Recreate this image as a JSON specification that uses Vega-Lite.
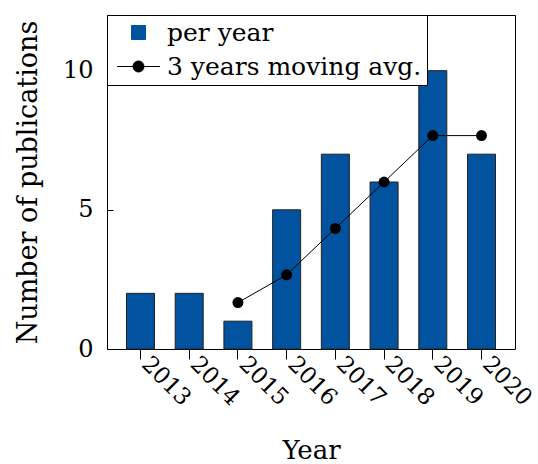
{
  "$schema": "https://vega.github.io/schema/vega-lite/v6.json",
  "width": 408,
  "height": 334,
  "autosize": "none",
  "padding": {"left": 107, "top": 15, "right": 23, "bottom": 115},
  "background": "white",
  "config": {
    "font": "DejaVu Serif",
    "view": {"stroke": "black", "strokeWidth": 1},
    "axis": {"domainColor": "black", "tickColor": "black", "labelColor": "black", "titleColor": "black", "labelFont": "DejaVu Serif", "titleFont": "DejaVu Serif", "titleFontWeight": "normal", "grid": false}
  },
  "datasets": {
    "yearly": [
      {"year": "2013", "count": 2},
      {"year": "2014", "count": 2},
      {"year": "2015", "count": 1},
      {"year": "2016", "count": 5},
      {"year": "2017", "count": 7},
      {"year": "2018", "count": 6},
      {"year": "2019", "count": 10},
      {"year": "2020", "count": 7}
    ],
    "moving": [
      {"year": "2015", "avg": 1.667},
      {"year": "2016", "avg": 2.667},
      {"year": "2017", "avg": 4.333},
      {"year": "2018", "avg": 6.0},
      {"year": "2019", "avg": 7.667},
      {"year": "2020", "avg": 7.667}
    ]
  },
  "encoding": {
    "x": {
      "field": "year", "type": "ordinal",
      "scale": {"domain": ["2013","2014","2015","2016","2017","2018","2019","2020"], "paddingInner": 0.425, "paddingOuter": 0.4},
      "axis": {"title": "Year", "labelAngle": 45, "labelAlign": "left", "labelBaseline": "alphabetic", "labelFontSize": 23, "titleFontSize": 26, "tickSize": 10, "labelPadding": 6, "titlePadding": 28, "domain": false}
    }
  },
  "layer": [
    {
      "data": {"name": "yearly"},
      "mark": {"type": "bar", "stroke": "#222222", "strokeWidth": 1},
      "encoding": {
        "y": {
          "field": "count", "type": "quantitative",
          "scale": {"domain": [0, 12], "nice": false},
          "axis": {"title": "Number of publications", "values": [0, 5, 10], "tickSize": -6, "labelPadding": 20, "labelFontSize": 24, "titleFontSize": 27, "titlePadding": 20, "domain": false}
        },
        "color": {
          "datum": "per year",
          "type": "nominal",
          "scale": {"domain": ["per year", "3 years moving avg."], "range": ["#01539f", "black"]},
          "legend": {
            "title": null,
            "orient": "none",
            "legendX": 0,
            "legendY": 0,
            "padding": 5,
            "labelFont": "DejaVu Serif",
            "labelFontSize": 25,
            "labelColor": "black",
            "labelLimit": 500,
            "symbolOffset": 14,
            "labelOffset": 16,
            "rowPadding": 8,
            "symbolSize": 400,
            "symbolType": {"expr": "datum.value === 'per year' ? 'M-0.7,-0.7H0.7V0.7H-0.7Z' : 'M-2.15,0H2.15M0.55,0A0.55,0.55 0 1 1 -0.55,0A0.55,0.55 0 1 1 0.55,0Z'"},
            "symbolStrokeColor": "black",
            "symbolStrokeWidth": 1,
            "symbolOpacity": 1,
            "strokeColor": "black",
            "fillColor": "white"
          }
        }
      }
    },
    {
      "data": {"name": "moving"},
      "mark": {"type": "line", "strokeWidth": 1, "color": "black", "point": {"filled": true, "size": 120, "color": "black", "opacity": 1}},
      "encoding": {
        "y": {"field": "avg", "type": "quantitative"},
        "color": {"datum": "3 years moving avg.", "type": "nominal"}
      }
    }
  ]
}
